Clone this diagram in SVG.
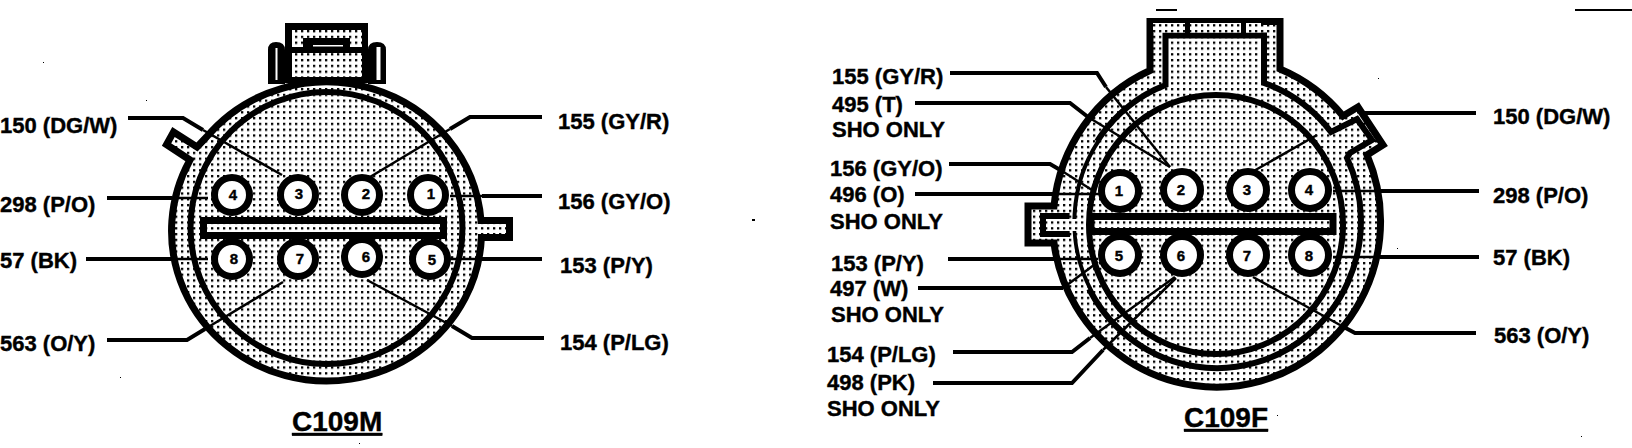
<svg xmlns="http://www.w3.org/2000/svg" width="1632" height="448" viewBox="0 0 1632 448">
<style>
text{font-family:"Liberation Sans",Arial,sans-serif;font-weight:700;fill:#000;stroke:#000;stroke-width:.4}
.lb{font-size:22px}
.ti{font-size:28px;text-decoration:underline}
.pn{font-size:15px;text-anchor:middle}
.st{fill:url(#dots);stroke:#000;stroke-linejoin:miter}
.pin{fill:#fff;stroke:#000;stroke-width:7}
.ld{fill:none;stroke:#000;stroke-width:4}
.th{fill:none;stroke:#000;stroke-width:2.5}
</style>
<defs>
<pattern id="dots" width="6" height="5.8" patternUnits="userSpaceOnUse">
<rect width="6" height="5.8" fill="#fff"/>
<rect x="1" y="1" width="2.3" height="2.3" fill="#000"/>
</pattern>
</defs>
<rect width="1632" height="448" fill="#fff"/>

<g id="C109M">
<path d="M268 84V50Q268 42 276 42Q285 42 285 50V84ZM368 84V50Q368 42 377 42Q386 42 386 50V84Z" fill="#000"/>
<rect x="275.5" y="48" width="2" height="32" fill="#fff"/>
<rect x="376.5" y="47" width="4" height="33" fill="#fff"/>
<rect x="285" y="23" width="83" height="60" fill="#000"/>
<rect x="292" y="30" width="70" height="17" fill="url(#dots)"/>
<rect x="292" y="53" width="70" height="24" fill="url(#dots)"/>
<rect x="303" y="38" width="47" height="9" fill="#000"/>
<rect x="313" y="45" width="30" height="1.5" fill="#fff"/>
<path class="st" stroke-width="7" d="M206.5 137L197 147L173.5 132L166.5 144.5L190 160A155 150 0 1 0 481.4 237.5H509.5V220.5H481A155 150 0 0 0 206.5 137Z"/>
<circle class="st" stroke-width="6" cx="326.5" cy="228" r="136"/>
<rect class="st" stroke-width="7" x="203.5" y="220.5" width="240" height="15"/>
</g>
<g id="C109F">
<path class="st" stroke-width="7" d="M1150 70.5V21.5H1280V69A164 166 0 0 1 1343 116L1358 107L1383 145L1367 155A164 166 0 1 1 1054 243H1028V206H1054A164 166 0 0 1 1150 70.5Z"/>
<path class="st" stroke-width="6" d="M1165.5 85V35.5H1264V83A144 147 0 0 1 1331 132L1357 119L1372 140L1350 153L1347 158A144 147 0 1 1 1073.5 234H1043V216H1073.5A144 147 0 0 1 1165.5 85Z"/>
<path d="M1095 140A146 149 0 0 0 1087 290" fill="none" stroke="url(#dots)" stroke-width="3"/>
<rect x="1153" y="23" width="108" height="9.5" fill="url(#dots)"/>
<rect x="1185" y="22" width="5" height="12" fill="#000"/>
<rect x="1241" y="22" width="5" height="12" fill="#000"/>
<ellipse class="st" stroke-width="6" cx="1216" cy="224.5" rx="127" ry="129.5"/>
<rect class="st" stroke-width="7" x="1091" y="216.5" width="242" height="15"/>
</g>

<g id="connectors">
<path class="ld" d="M128 118H183L203 130"/><path class="th" d="M203 130L282 175"/>
<path class="ld" d="M542 117H470L450 129"/><path class="th" d="M450 129L370 177"/>
<path class="ld" d="M107 198H172"/><path class="th" d="M172 198H208"/>
<path class="ld" d="M542 196H482"/><path class="th" d="M482 196H450"/>
<path class="ld" d="M86 259H172"/><path class="th" d="M172 259H208"/>
<path class="ld" d="M542 259H482"/><path class="th" d="M482 259H450"/>
<path class="ld" d="M107 340H187L205 329"/><path class="th" d="M205 329L283 282"/>
<path class="ld" d="M544 338H472L452 326"/><path class="th" d="M452 326L367 280"/>

<path class="ld" d="M950 73H1097L1106 87"/><path class="th" d="M1106 87L1170 167"/>
<path class="ld" d="M915 103H1070L1088 117"/><path class="th" d="M1088 117L1170 167"/>
<path class="ld" d="M949 164H1050L1062 171"/><path class="th" d="M1062 171L1092 190"/>
<path class="ld" d="M915 194H1054"/><path class="th" d="M1054 194H1105"/>
<path class="ld" d="M948 259H1056"/><path class="th" d="M1056 259H1098"/>
<path class="ld" d="M918 288H1063"/><path class="th" d="M1063 288L1098 262"/>
<path class="ld" d="M953 352H1072L1090 338"/><path class="th" d="M1090 338L1175 277"/>
<path class="ld" d="M933 383H1072L1103 350"/><path class="th" d="M1103 350L1176 278"/>
<path class="ld" d="M1476 113H1365"/><path class="th" d="M1317 135L1252 172"/>
<path class="ld" d="M1479 191H1380"/><path class="th" d="M1380 191H1333"/>
<path class="ld" d="M1479 257H1380"/><path class="th" d="M1380 257H1333"/>
<path class="ld" d="M1476 333H1355L1340 325"/><path class="th" d="M1340 325L1253 277"/>
</g>

<g id="m-pin-4"><circle class="pin" cx="232" cy="195" r="17.5"/><text class="pn" x="233" y="200">4</text></g>
<g id="m-pin-3"><circle class="pin" cx="298" cy="195" r="17.5"/><text class="pn" x="299" y="199">3</text></g>
<g id="m-pin-2"><circle class="pin" cx="362" cy="195" r="17.5"/><text class="pn" x="366" y="199">2</text></g>
<g id="m-pin-1"><circle class="pin" cx="428" cy="195" r="17.5"/><text class="pn" x="431" y="199">1</text></g>
<g id="m-pin-8"><circle class="pin" cx="232" cy="259" r="17.5"/><text class="pn" x="234" y="264">8</text></g>
<g id="m-pin-7"><circle class="pin" cx="298" cy="259" r="17.5"/><text class="pn" x="300" y="264">7</text></g>
<g id="m-pin-6"><circle class="pin" cx="362" cy="257" r="17.5"/><text class="pn" x="366" y="262">6</text></g>
<g id="m-pin-5"><circle class="pin" cx="430" cy="259" r="17.5"/><text class="pn" x="432" y="265">5</text></g>

<g id="f-pin-1"><circle class="pin" cx="1120" cy="191" r="18.5"/><text class="pn" x="1119" y="196">1</text></g>
<g id="f-pin-2"><circle class="pin" cx="1182" cy="190" r="18.5"/><text class="pn" x="1181" y="195">2</text></g>
<g id="f-pin-3"><circle class="pin" cx="1248" cy="190" r="18.5"/><text class="pn" x="1247" y="195">3</text></g>
<g id="f-pin-4"><circle class="pin" cx="1310" cy="190" r="18.5"/><text class="pn" x="1309" y="195">4</text></g>
<g id="f-pin-5"><circle class="pin" cx="1120" cy="255" r="18.5"/><text class="pn" x="1119" y="261">5</text></g>
<g id="f-pin-6"><circle class="pin" cx="1182" cy="255" r="18.5"/><text class="pn" x="1181" y="261">6</text></g>
<g id="f-pin-7"><circle class="pin" cx="1248" cy="255" r="18.5"/><text class="pn" x="1247" y="261">7</text></g>
<g id="f-pin-8"><circle class="pin" cx="1310" cy="255" r="18.5"/><text class="pn" x="1309" y="261">8</text></g>

<g id="labels">
<text class="lb" x="0" y="133">150 (DG/W)</text>
<text class="lb" x="558" y="129">155 (GY/R)</text>
<text class="lb" x="0" y="212">298 (P/O)</text>
<text class="lb" x="558" y="209">156 (GY/O)</text>
<text class="lb" x="0" y="268">57 (BK)</text>
<text class="lb" x="560" y="273">153 (P/Y)</text>
<text class="lb" x="0" y="351">563 (O/Y)</text>
<text class="lb" x="560" y="350">154 (P/LG)</text>
<text class="ti" x="292" y="431">C109M</text>

<text class="lb" x="832" y="84">155 (GY/R)</text>
<text class="lb" x="832" y="112">495 (T)</text>
<text class="lb" x="832" y="137">SHO ONLY</text>
<text class="lb" x="830" y="176">156 (GY/O)</text>
<text class="lb" x="830" y="202">496 (O)</text>
<text class="lb" x="830" y="229">SHO ONLY</text>
<text class="lb" x="831" y="271">153 (P/Y)</text>
<text class="lb" x="830" y="296">497 (W)</text>
<text class="lb" x="831" y="322">SHO ONLY</text>
<text class="lb" x="827" y="362">154 (P/LG)</text>
<text class="lb" x="827" y="390">498 (PK)</text>
<text class="lb" x="827" y="416">SHO ONLY</text>
<text class="lb" x="1493" y="124">150 (DG/W)</text>
<text class="lb" x="1493" y="203">298 (P/O)</text>
<text class="lb" x="1493" y="265">57 (BK)</text>
<text class="lb" x="1494" y="343">563 (O/Y)</text>
<text class="ti" x="1184" y="427">C109F</text>
</g>

<g id="marks" fill="#000">
<rect x="1156" y="9" width="21" height="2"/>
<rect x="1575" y="9" width="57" height="2"/>
<rect x="752" y="219" width="3" height="2"/>
<rect x="43" y="62" width="1" height="1"/>
<rect x="146" y="100" width="1" height="1"/>
<rect x="120" y="377" width="1" height="1"/>
<rect x="359" y="443" width="1" height="1"/>
<rect x="1378" y="78" width="1" height="1"/>
<rect x="1397" y="248" width="1" height="1"/>
<rect x="1581" y="436" width="1" height="1"/>
<rect x="1277" y="415" width="1" height="1"/>
</g>
</svg>
